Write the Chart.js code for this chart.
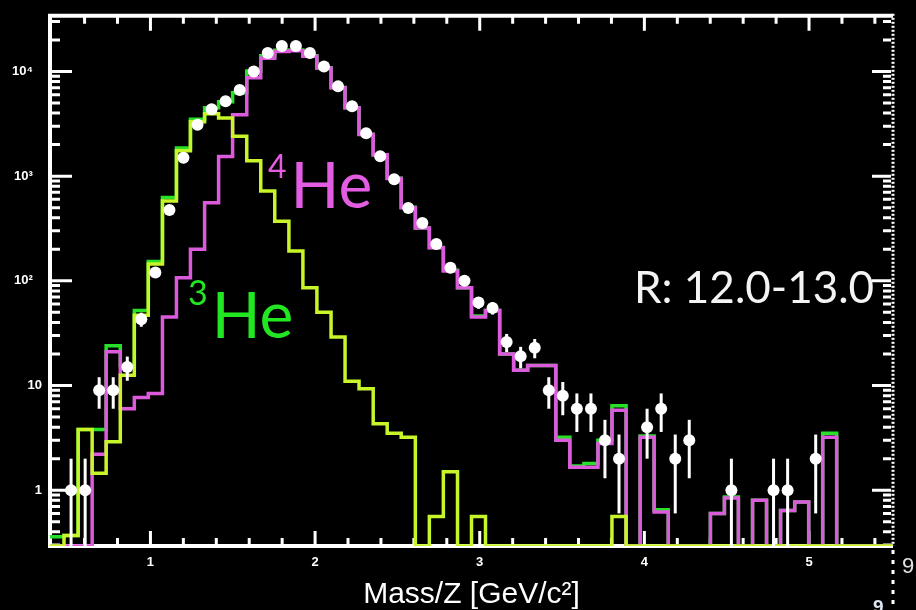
<!DOCTYPE html>
<html>
<head>
<meta charset="utf-8">
<script src="https://cdn.jsdelivr.net/npm/chart.js@4.4.1/dist/chart.umd.min.js"></script>
<style>
  html, body { margin: 0; padding: 0; background: #000; }
</style>
</head>
<body>
<canvas id="chart" width="916" height="610"></canvas>
<script>
// 60 mass bins, Mass/Z in GeV/c^2 (bin edges)
const binEdges = [
  0.390, 0.475, 0.561, 0.646, 0.731, 0.817, 0.902, 0.987, 1.073, 1.158,
  1.243, 1.329, 1.414, 1.499, 1.585, 1.670, 1.755, 1.841, 1.926, 2.011,
  2.097, 2.182, 2.267, 2.353, 2.438, 2.523, 2.609, 2.694, 2.779, 2.865,
  2.950, 3.035, 3.121, 3.206, 3.291, 3.377, 3.462, 3.547, 3.633, 3.718,
  3.803, 3.889, 3.974, 4.059, 4.145, 4.230, 4.315, 4.401, 4.486, 4.571,
  4.657, 4.742, 4.827, 4.913, 4.998, 5.083, 5.168, 5.254, 5.339, 5.424,
  5.510
];

// 3He template (yellow-green)
const he3Fit = [
  0, 0.37, 3.8, 1.45, 2.9, 12.5, 47, 145, 580, 1750,
  3300, 3950, 3600, 2400, 1400, 720, 370, 193, 86, 50,
  29, 11, 9.3, 4.3, 3.5, 3.2, 0, 0.56, 1.5, 0,
  0.56, 0, 0, 0, 0, 0, 0, 0, 0, 0,
  0.56, 0, 0, 0, 0, 0, 0, 0, 0, 0,
  0, 0, 0, 0, 0, 0, 0, 0, 0, 0
];

// 4He template (magenta)
const he4Fit = [
  0, 0, 0, 2.2, 21, 6, 7.7, 8.4, 45, 107,
  200, 556, 1540, 3860, 8700, 13400, 15500, 15800, 14000, 10800,
  7000, 4500, 2500, 1600, 950, 500, 320, 207, 124, 86,
  45, 52, 20, 14, 15.5, 15.5, 3.0, 1.66, 1.66, 2.8,
  5.8, 0, 3.2, 0.62, 0, 0, 0, 0.6, 0.84, 0,
  0.8, 0, 0.64, 0.77, 0, 3.2, 0, 0, 0, 0
];

// total fit (green)
const sumFit = [
  0.36, 0.37, 3.8, 3.8, 24, 15.5, 52, 153, 625, 1860,
  3500, 4500, 5140, 6260, 10100, 14100, 15900, 16000, 14100, 10850,
  7030, 4510, 2510, 1604, 953, 503, 320, 208, 126, 86,
  46, 52, 20, 14, 15.5, 15.5, 3.2, 1.7, 1.8, 3.0,
  6.4, 0, 3.3, 0.65, 0, 0, 0, 0.6, 0.86, 0,
  0.8, 0, 0.64, 0.77, 0, 3.5, 0, 0, 0, 0
];

// measured counts (white points) and their errors
const dataCounts = [
  null, 1, 1, 9, 9, 15, 43, 120, 475, 1500,
  3100, 4350, 5200, 6650, 10000, 15000, 17500, 17500, 15000, 11150,
  7200, 4640, 2570, 1550, 936, 495, 357, 225, 133, 100,
  62, 55, 26, 19, 23, 9, 8, 6, 6, 3,
  2, null, 4, 6, 2, 3, null, null, 1, null,
  null, 1, 1, null, 2, null, null, null, null, null
];
const dataErr = [
  null, 1, 1, 3, 3, 3.9, 6.6, 11, 22, 39,
  56, 66, 72, 82, 100, 122, 132, 132, 122, 106,
  85, 68, 51, 39, 31, 22, 19, 15, 11.5, 10,
  7.9, 7.4, 5.1, 4.4, 4.8, 3, 2.8, 2.4, 2.4, 1.7,
  1.4, null, 2, 2.4, 1.4, 1.7, null, null, 1, null,
  null, 1, 1, null, 1.4, null, null, null, null, null
];

const xTickValues = [1, 2, 3, 4, 5];
const yTickValues = [1, 10, 100, 1000, 10000];
const yTickLabels = ['1', '10', '10\u00b2\u2002\u2009', '10\u00b3\u2002\u2009', '10\u2074\u2002\u2009'];

const X_MIN = 0.39, X_MAX = 5.51, Y_MIN = 0.293, Y_MAX = 34000;

const GREEN = '#28e028';
const MAGENTA = '#dc5adc';
const YELLOW = '#c8f52a';

function stepPoints(vals) {
  // empty bins sit on the bottom of the log axis
  const pts = vals.map((v, i) => ({x: binEdges[i], y: Math.max(v, Y_MIN)}));
  pts.push({x: binEdges[vals.length], y: Math.max(vals[vals.length - 1], Y_MIN)});
  return pts;
}

const dataPoints = [];
dataCounts.forEach((c, i) => {
  if (c != null) dataPoints.push({x: (binEdges[i] + binEdges[i + 1]) / 2, y: c});
});

// frame with inward ticks, like the original plot
const frame = {
  id: 'frame',
  beforeDatasetsDraw(chart) {
    const {ctx, chartArea: a, scales: {x, y}} = chart;
    ctx.save();
    ctx.strokeStyle = '#fff';
    ctx.lineWidth = 4;
    ctx.beginPath();
    ctx.moveTo(a.right, a.top);
    ctx.lineTo(a.left, a.top);
    ctx.lineTo(a.left, a.bottom);
    ctx.lineTo(a.right, a.bottom);
    ctx.stroke();

    ctx.lineWidth = 3;
    ctx.beginPath();
    for (let v = 0.6; v < X_MAX; v += 0.2) {
      const major = Math.abs(v - Math.round(v)) < 0.01;
      const px = x.getPixelForValue(v);
      const len = major ? 15 : 8;
      ctx.moveTo(px, a.bottom); ctx.lineTo(px, a.bottom - len);
      ctx.moveTo(px, a.top); ctx.lineTo(px, a.top + len);
    }
    for (let d = 0.1; d <= 10000; d *= 10) {
      for (let m = 1; m <= 9; m++) {
        const v = m * d;
        if (v < Y_MIN || v > Y_MAX) continue;
        const py = y.getPixelForValue(v);
        const major = m === 1;
        ctx.moveTo(a.left, py); ctx.lineTo(a.left + (major ? 22 : 10), py);
        ctx.moveTo(a.right - 2, py); ctx.lineTo(a.right - 2 - (major ? 19 : 8), py);
      }
    }
    ctx.stroke();

    // dotted right edge
    ctx.lineWidth = 3;
    ctx.setLineDash([2, 2]);
    ctx.beginPath();
    ctx.moveTo(a.right, a.top - 2);
    ctx.lineTo(a.right, a.bottom);
    ctx.stroke();
    ctx.setLineDash([4, 6]);
    ctx.beginPath();
    ctx.moveTo(a.right, a.bottom + 4);
    ctx.lineTo(a.right, chart.height);
    ctx.stroke();
    ctx.restore();
  }
};

const errorBars = {
  id: 'errorBars',
  afterDatasetsDraw(chart) {
    const {ctx, scales: {x, y}} = chart;
    ctx.save();
    ctx.strokeStyle = '#fff';
    ctx.lineWidth = 3;
    dataCounts.forEach((c, i) => {
      if (c == null) return;
      const px = x.getPixelForValue((binEdges[i] + binEdges[i + 1]) / 2);
      const lo = Math.max(c - dataErr[i], Y_MIN);
      const hi = c + dataErr[i];
      ctx.beginPath();
      ctx.moveTo(px, y.getPixelForValue(lo));
      ctx.lineTo(px, y.getPixelForValue(hi));
      ctx.stroke();
    });
    ctx.restore();
  }
};

function isotope(ctx, sup, name, px, py, color, supSize, supRise) {
  ctx.fillStyle = color;
  ctx.font = supSize + 'px Lato';
  ctx.fillText(sup, px, py - supRise);
  const w = ctx.measureText(sup).width;
  ctx.font = '64px Lato';
  ctx.fillText(name, px + w + 4, py);
}

const labels = {
  id: 'labels',
  afterDraw(chart) {
    const {ctx, scales: {x, y}} = chart;
    ctx.save();
    ctx.textBaseline = 'alphabetic';
    isotope(ctx, '4', 'He', x.getPixelForValue(1.714), y.getPixelForValue(493), '#e35de3', 32, 30);
    isotope(ctx, '3', 'He', x.getPixelForValue(1.228), y.getPixelForValue(28.6), '#22e622', 34, 33);
    ctx.fillStyle = '#f4f4f4';
    ctx.font = '44px Lato';
    ctx.fillText('R: 12.0-13.0', x.getPixelForValue(3.937), y.getPixelForValue(61.5));
    // slide page-number leftovers on the right
    ctx.fillStyle = '#e2e2e2';
    ctx.font = '22px "Liberation Sans"';
    ctx.fillText('9', chart.width - 14, 573);
    ctx.fillStyle = '#dce6f2';
    ctx.font = 'bold 19px "Liberation Sans"';
    ctx.fillText('9', chart.width - 43, 613);
    ctx.restore();
  }
};

const tickFont = {family: '"Liberation Sans", Arial, sans-serif', size: 13, weight: 'bold'};

new Chart('chart', {
  type: 'line',
  data: {
    datasets: [
      {
        label: 'data',
        data: dataPoints,
        showLine: false,
        pointRadius: 6,
        pointHoverRadius: 6,
        pointBackgroundColor: '#fff',
        pointBorderWidth: 0
      },
      {
        label: '3He',
        data: stepPoints(he3Fit),
        stepped: 'before',
        borderColor: YELLOW,
        borderWidth: 3.5,
        pointRadius: 0
      },
      {
        label: '4He',
        data: stepPoints(he4Fit),
        stepped: 'before',
        borderColor: MAGENTA,
        borderWidth: 3.5,
        pointRadius: 0
      },
      {
        label: 'sum',
        data: stepPoints(sumFit),
        stepped: 'before',
        borderColor: GREEN,
        borderWidth: 3.5,
        pointRadius: 0
      }
    ]
  },
  options: {
    responsive: false,
    animation: false,
    devicePixelRatio: 1,
    layout: {padding: {top: 13, right: 23, left: 0, bottom: 0}},
    plugins: {legend: {display: false}, tooltip: {enabled: false}},
    scales: {
      x: {
        type: 'linear',
        min: X_MIN,
        max: X_MAX,
        afterBuildTicks: (s) => { s.ticks = xTickValues.map(v => ({value: v})); },
        afterFit: (s) => { s.height = 64; },
        grid: {display: false, drawTicks: false},
        border: {display: false},
        ticks: {color: '#fff', font: tickFont, padding: 9, maxRotation: 0, callback: (v) => String(v)},
        title: {
          display: true,
          text: 'Mass/Z [GeV/c\u00b2]',
          color: '#fff',
          font: {family: '"Liberation Sans", Arial, sans-serif', size: 30, lineHeight: 1},
          padding: {top: 0, bottom: 0}
        }
      },
      y: {
        type: 'logarithmic',
        min: Y_MIN,
        max: Y_MAX,
        afterBuildTicks: (s) => { s.ticks = yTickValues.map(v => ({value: v})); },
        afterFit: (s) => { s.width = 50; },
        grid: {display: false, drawTicks: false},
        border: {display: false},
        ticks: {color: '#fff', font: tickFont, padding: 8, callback: (v, i) => yTickLabels[i]}
      }
    }
  },
  plugins: [frame, errorBars, labels]
});
</script>
</body>
</html>
